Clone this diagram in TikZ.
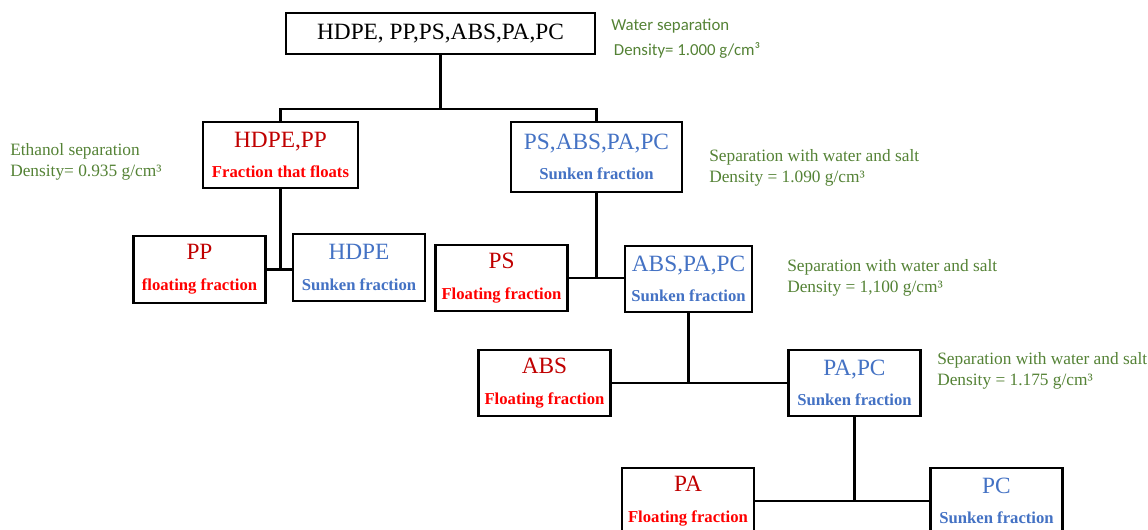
\documentclass[tikz,border=0pt]{standalone}
\usepackage{fontspec}
\setmainfont{Liberation Serif}
\newfontfamily\calfont{Carlito}
\newfontfamily\timesfont{Liberation Serif}
\usepackage{tikz}
\usetikzlibrary{positioning,calc}
\definecolor{dred}{HTML}{C00000}
\definecolor{bred}{HTML}{FF0000}
\definecolor{sblue}{HTML}{4472C4}
\definecolor{sepgreen}{HTML}{548235}
\newcommand{\titlefont}{\timesfont\fontsize{17.5pt}{21pt}\selectfont}
\newcommand{\subfont}{\timesfont\bfseries\fontsize{12.5pt}{15pt}\selectfont}
\newcommand{\floatbox}[2]{{\titlefont\color{dred}#1}\\[11pt]{\subfont\color{bred}#2}}
\newcommand{\sinkbox}[2]{{\titlefont\color{sblue}#1}\\[11pt]{\subfont\color{sblue}#2}}

\begin{document}
\begin{tikzpicture}[
  x=0.75pt, y=-0.75pt,
  box/.style={rectangle, draw, line width=1.6pt, fill=white, align=center,
    inner sep=0pt, minimum width=99pt, minimum height=50pt},
  conn/.style={line width=1.6pt},
  note/.style={anchor=west, align=left, inner sep=0pt, text=sepgreen,
    font=\timesfont\fontsize{13pt}{15.75pt}\selectfont}
]
  \useasboundingbox (0,0) rectangle (1148,530);
  \node[box, minimum width=232pt, minimum height=31pt, font=\titlefont] (mix) at (440.5,33.5) {HDPE, PP,PS,ABS,PA,PC};
  \node[box, minimum width=116pt, minimum height=49.5pt] (hp) at (280.5,155) {\floatbox{HDPE,PP}{Fraction that floats}};
  \node[box, minimum width=128pt, minimum height=52.5pt] (sapc) at (596.5,157) {\sinkbox{PS,ABS,PA,PC}{Sunken fraction}};
  \node[box] (pp) at (199.5,269.5) {\floatbox{PP}{floating fraction}};
  \node[box] (hdpe) at (359,267.5) {\sinkbox{HDPE}{Sunken fraction}};
  \node[box] (ps) at (501.5,278) {\floatbox{PS}{Floating fraction}};
  \node[box, minimum width=95pt] (apc) at (688.5,279) {\sinkbox{ABS,PA,PC}{Sunken fraction}};
  \node[box] (abs) at (544.5,383) {\floatbox{ABS}{Floating fraction}};
  \node[box] (papc) at (854.5,383) {\sinkbox{PA,PC}{Sunken fraction}};
  \node[box] (pa) at (688,501) {\floatbox{PA}{Floating fraction}};
  \node[box] (pc) at (996.5,501) {\sinkbox{PC}{Sunken fraction}};
  %
  \coordinate (split) at (440.5,109);
  \draw[conn] (mix.south) -- (split);
  \draw[conn] (hp.north) |- (split) -| (sapc.north);
  \draw[conn] (hp.south) -- (hp.south |- pp.east);
  \draw[conn] (pp.east) -- (pp.east -| hdpe.west);
  \draw[conn] (sapc.south) -- (sapc.south |- ps.east);
  \draw[conn] (ps.east) -- (ps.east -| apc.west);
  \draw[conn] (apc.south) -- (apc.south |- abs.east);
  \draw[conn] (abs.east) -- (papc.west);
  \draw[conn] (papc.south) -- (papc.south |- pa.east);
  \draw[conn] (pa.east) -- (pc.west);
  %
  \node[note, font=\calfont\fontsize{12.6pt}{18.75pt}\selectfont] (water) at (611,38.5) {Water separation\\\hspace{2pt}Density= 1.000 g/cm³};
  \node[note] (ethanol) at (10,161.5) {Ethanol separation\\Density= 0.935 g/cm³};
  \node[note] (salt1) at (709,167.5) {Separation with water and salt\\Density = 1.090 g/cm³};
  \node[note] (salt2) at (787,278) {Separation with water and salt\\Density = 1,100 g/cm³};
  \node[note] (salt3) at (937,371) {Separation with water and salt\\Density = 1.175 g/cm³};
\end{tikzpicture}
\end{document}
